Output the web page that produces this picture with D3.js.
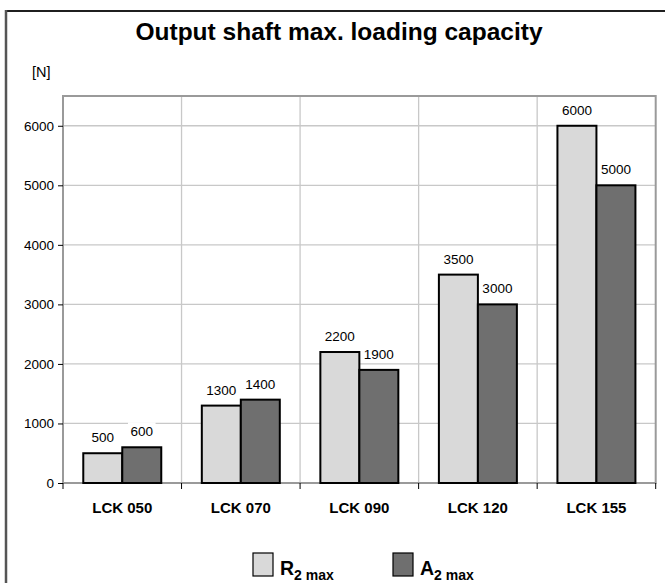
<!DOCTYPE html>
<html>
<head>
<meta charset="utf-8">
<script src="https://cdn.jsdelivr.net/npm/d3@7/dist/d3.min.js"></script>
<style>
  html, body { margin: 0; padding: 0; background: #fff; }
  svg { display: block; font-family: "Liberation Sans", Arial, sans-serif; }
</style>
</head>
<body>
<svg id="chart" width="665" height="583"></svg>
<script>
const categories = ["LCK 050", "LCK 070", "LCK 090", "LCK 120", "LCK 155"];
const seriesKeys = ["R", "A"];
const rValues = [500, 1300, 2200, 3500, 6000];
const aValues = [600, 1400, 1900, 3000, 5000];
const yTicks = [0, 1000, 2000, 3000, 4000, 5000, 6000];
const title = "Output shaft max. loading capacity";
const unitLabel = "[N]";
const legendItems = [
  { key: "R", main: "R", sub: "2 max" },
  { key: "A", main: "A", sub: "2 max" }
];

const colors = { R: "#d9d9d9", A: "#6f6f6f" };
const valuesByKey = { R: rValues, A: aValues };

const svg = d3.select("#chart");
const plot = { left: 63, right: 655.7, top: 96, bottom: 483 };

// outer frame
svg.append("line").attr("x1", 6).attr("x2", 700).attr("y1", 11).attr("y2", 11)
  .attr("stroke", "#1f1f1f").attr("stroke-width", 2);
svg.append("line").attr("x1", 6).attr("x2", 6).attr("y1", 10).attr("y2", 600)
  .attr("stroke", "#555").attr("stroke-width", 2.5);

// title
svg.append("text").attr("x", 339).attr("y", 40).attr("text-anchor", "middle")
  .attr("font-size", 24.5).attr("font-weight", "bold").attr("fill", "#000").text(title);

svg.append("text").attr("x", 32).attr("y", 77).attr("font-size", 14.5).attr("fill", "#000").text(unitLabel);

const x0 = d3.scaleBand().domain(categories).range([plot.left, plot.right]).paddingInner(0).paddingOuter(0);
const x1 = d3.scaleBand().domain(seriesKeys).range([0, x0.bandwidth()]).paddingInner(0).paddingOuter(0.52);
const y = d3.scaleLinear().domain([0, 6500]).range([plot.bottom, plot.top]);

// horizontal gridlines
svg.append("g").selectAll("line").data(yTicks.filter(d => d > 0)).join("line")
  .attr("x1", plot.left).attr("x2", plot.right)
  .attr("y1", d => y(d)).attr("y2", d => y(d))
  .attr("stroke", "#c8c8c8").attr("stroke-width", 1.3);

// vertical gridlines at category boundaries
svg.append("g").selectAll("line").data(categories.slice(1)).join("line")
  .attr("x1", d => x0(d)).attr("x2", d => x0(d))
  .attr("y1", plot.top).attr("y2", plot.bottom)
  .attr("stroke", "#c8c8c8").attr("stroke-width", 1.3);

// plot border
svg.append("rect").attr("x", plot.left).attr("y", plot.top)
  .attr("width", plot.right - plot.left).attr("height", plot.bottom - plot.top)
  .attr("fill", "none").attr("stroke", "#9a9a9a").attr("stroke-width", 2);

// y axis
const yAxis = d3.axisLeft(y).tickValues(yTicks).tickSize(5).tickPadding(4).tickFormat(d3.format("d"));
const gy = svg.append("g").attr("transform", `translate(${plot.left},0)`).call(yAxis);
gy.select(".domain").remove();
gy.selectAll(".tick line").attr("stroke", "#000").attr("stroke-width", 1);
gy.selectAll(".tick text").attr("font-size", 13.5).attr("fill", "#000")
  .attr("font-family", "'Liberation Sans', Arial, sans-serif");

// x axis ticks at boundaries
const boundaries = categories.map(c => x0(c)).concat([plot.right]);
svg.append("g").selectAll("line").data(boundaries).join("line")
  .attr("x1", d => d).attr("x2", d => d).attr("y1", plot.bottom).attr("y2", plot.bottom + 6)
  .attr("stroke", "#000").attr("stroke-width", 1);
const xAxis = d3.axisBottom(x0).tickSize(0).tickPadding(19);
const gx = svg.append("g").attr("transform", `translate(0,${plot.bottom})`).call(xAxis);
gx.select(".domain").remove();
gx.selectAll(".tick text").attr("font-size", 15).attr("font-weight", "bold").attr("fill", "#000")
  .attr("font-family", "'Liberation Sans', Arial, sans-serif");

// bars
const barData = [];
categories.forEach((c, i) => {
  seriesKeys.forEach(k => barData.push({ cat: c, key: k, value: valuesByKey[k][i] }));
});
svg.append("g").selectAll("rect").data(barData).join("rect")
  .attr("x", d => x0(d.cat) + x1(d.key))
  .attr("y", d => y(d.value))
  .attr("width", x1.bandwidth())
  .attr("height", d => y(0) - y(d.value))
  .attr("fill", d => colors[d.key])
  .attr("stroke", "#000").attr("stroke-width", 2);

// value labels with white background
const lbl = svg.append("g").selectAll("g").data(barData).join("g")
  .attr("transform", d => `translate(${x0(d.cat) + x1(d.key) + x1.bandwidth() / 2},${y(d.value) - 11})`);
lbl.append("rect").attr("x", d => -String(d.value).length * 3.6 - 3).attr("y", -14)
  .attr("width", d => String(d.value).length * 7.2 + 6).attr("height", 18).attr("fill", "#fff");
lbl.append("text").attr("text-anchor", "middle").attr("font-size", 13.5).attr("fill", "#000")
  .text(d => d.value);

// legend
const legendX = [253, 393];
const lg = svg.append("g").selectAll("g").data(legendItems).join("g")
  .attr("transform", (d, i) => `translate(${legendX[i]},553)`);
lg.append("rect").attr("x", 0).attr("y", 0).attr("width", 20).attr("height", 23)
  .attr("fill", d => colors[d.key]).attr("stroke", "#000").attr("stroke-width", 1.2);
const lt = lg.append("text").attr("x", 27).attr("y", 22).attr("font-weight", "bold").attr("fill", "#000");
lt.append("tspan").attr("font-size", 19.5).text(d => d.main);
lt.append("tspan").attr("font-size", 14).attr("dy", 5).text(d => d.sub);
</script>
</body>
</html>
